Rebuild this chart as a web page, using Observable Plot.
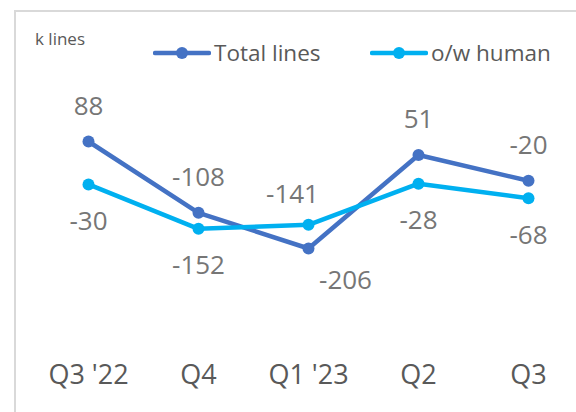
<!DOCTYPE html>
<html>
<head>
<meta charset="utf-8">
<script src="https://cdn.jsdelivr.net/npm/d3@7"></script>
<script src="https://cdn.jsdelivr.net/npm/@observablehq/plot@0.6"></script>
<style>
  html, body { margin: 0; padding: 0; background: #fff; }
  body { font-family: "Open Sans", sans-serif; }
  #wrap { position: relative; width: 576px; height: 412px; overflow: hidden; }
  #frame { position: absolute; left: 14px; top: 10px; width: 600px; height: 450px;
           border-left: 2px solid #d9d9d9; border-top: 2px solid #d9d9d9; box-sizing: border-box; }
  #unit { position: absolute; left: 35px; top: 27px; font-size: 17px; color: #595959; }
  .leg { position: absolute; top: 37px; display: flex; align-items: center; font-size: 22.5px; color: #595959; }
  .leg svg { display: block; margin-right: 3px; }
  #chart { position: absolute; left: 0; top: 0; }
</style>
</head>
<body>
<div id="wrap">
  <div id="frame"></div>
  <div id="chart"></div>
  <div id="unit">k lines</div>
  <div id="legend"></div>
</div>
<script>
const quarters = ["Q3 '22", "Q4", "Q1 '23", "Q2", "Q3"];
const totalLines = [88, -108, -206, 51, -20];
const humanLines = [-30, -152, -141, -28, -68];
const seriesNames = ["Total lines", "o/w human"];
const seriesColors = ["#4472C4", "#00B0F0"];

const total = quarters.map((q, i) => ({q, v: totalLines[i], s: seriesNames[0]}));
const human = quarters.map((q, i) => ({q, v: humanLines[i], s: seriesNames[1]}));
const all = total.concat(human);

const labelColor = "#767676";
const fs = 26;

const chart = Plot.plot({
  width: 576,
  height: 412,
  marginTop: 0,
  marginLeft: 0,
  marginRight: 0,
  marginBottom: 48,
  style: {fontFamily: "'Open Sans', sans-serif", background: "transparent", overflow: "visible"},
  x: {type: "point", domain: quarters, range: [88, 528], padding: 0},
  y: {domain: [-206, 88], range: [248, 141], axis: null},
  color: {domain: seriesNames, range: seriesColors},
  marks: [
    Plot.line(all, {x: "q", y: "v", z: "s", stroke: "s", strokeWidth: 4.5, strokeLinejoin: "round"}),
    Plot.dot(all, {x: "q", y: "v", fill: "s", r: 6, stroke: "none"}),
    // total labels above, except Q1 '23 below-right
    Plot.text(total, {filter: d => d.q !== "Q1 '23", x: "q", y: "v", text: d => String(d.v), dy: -35, fill: labelColor, fontSize: fs}),
    Plot.text(total, {filter: d => d.q === "Q1 '23", x: "q", y: "v", text: d => String(d.v), dx: 37, dy: 32, fill: labelColor, fontSize: fs}),
    // human labels below, except Q1 '23 above-left
    Plot.text(human, {filter: d => d.q !== "Q1 '23", x: "q", y: "v", text: d => String(d.v), dy: 37, fill: labelColor, fontSize: fs}),
    Plot.text(human, {filter: d => d.q === "Q1 '23", x: "q", y: "v", text: d => String(d.v), dx: -16, dy: -30, fill: labelColor, fontSize: fs}),
    Plot.axisX({anchor: "bottom", tickSize: 0, tickPadding: 0, fontSize: 27, fill: "#595959", label: null})
  ]
});
document.getElementById("chart").appendChild(chart);

// legend
const legend = document.getElementById("legend");
const legX = [153, 370];
seriesNames.forEach((name, i) => {
  const el = document.createElement("div");
  el.className = "leg";
  el.style.left = legX[i] + "px";
  el.innerHTML = `<svg width="58" height="14"><line x1="2" y1="7" x2="56" y2="7" stroke="${seriesColors[i]}" stroke-width="4.5" stroke-linecap="round"/><circle cx="29" cy="7" r="6" fill="${seriesColors[i]}"/></svg><span>${name}</span>`;
  legend.appendChild(el);
});
</script>
</body>
</html>
